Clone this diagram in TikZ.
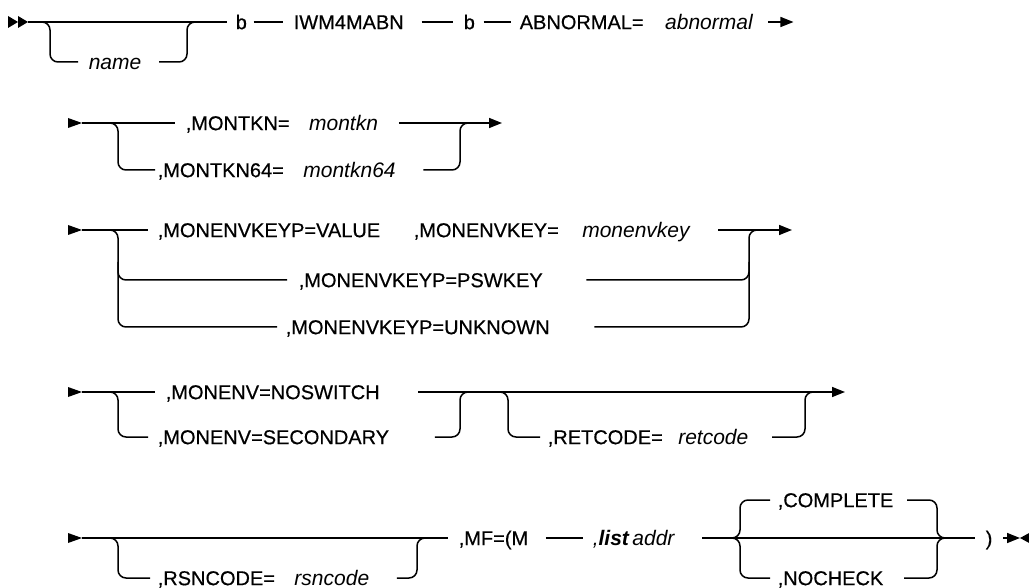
\documentclass[tikz,border=0pt]{standalone}
\usepackage{fontspec}
\setmainfont{Liberation Sans}
\newfontfamily\kwfont{Liberation Sans}[FakeBold=0.5]
\usetikzlibrary{arrows.meta}
\begin{document}
\begin{tikzpicture}[x=1pt,y=-1pt, line width=1.5pt,
  rc/.style={rounded corners=8pt},
  kw/.style={font=\fontsize{20}{23}\selectfont\kwfont, inner sep=0pt, text height=14.3pt, text depth=0pt, anchor=west},
  var/.style={kw, font=\fontsize{21}{24}\selectfont\itshape},
  tip/.style={-{Triangle[length=13pt,width=10pt]}},
  startarrow/.pic={\fill (-14,-5) -- (0,0) -- (-14,5) -- cycle;}]
\path[use as bounding box] (0,0) rectangle (1029,588);
% ---------- row 1
\fill (8,16) -- (18,22) -- (8,28) -- cycle;
\fill (18,16) -- (28,22) -- (18,28) -- cycle;
\coordinate (s1) at (28,22);
\node[kw] (b1) at (235,22) {b};
\node[kw] (iwm) at (293,22) {IWM4MABN};
\node[kw] (b2) at (463,22) {b};
\node[kw] (abn) at (519,22) {ABNORMAL=};
\node[var] (abnv) at ([xshift=20pt]abn.east) {abnormal};
\node[var] (name) at (88,62) {name};
\draw (s1) -- ([xshift=-8pt]b1.west);
\draw[rc] (38,22) -- (50,22) -- (50,62) -- ([xshift=-10pt]name.west);
\draw[rc] ([xshift=17pt]name.east) -- (187,62) -- (187,22) -- (197,22);
\draw ([xshift=6pt]b1.east) -- ([xshift=-10pt]iwm.west);
\draw ([xshift=17pt]iwm.east) -- ([xshift=-10pt]b2.west);
\draw ([xshift=8pt]b2.east) -- ([xshift=-8pt]abn.west);
\draw[tip] ([xshift=15pt]abnv.east) -- ++(25,0);
% ---------- row 2
\pic at (82,123) {startarrow};
\node[kw] (mt) at (185,123) {,MONTKN=};
\node[var] (mtv) at ([xshift=18pt]mt.east) {montkn};
\node[kw] (mt64) at (157,170) {,MONTKN64=};
\node[var] (mt64v) at ([xshift=18pt]mt64.east) {montkn64};
\draw (82,123) -- ([xshift=-10pt]mt.west);
\draw[rc] (108,123) -- (118,123) -- (118,170) -- ([xshift=-2pt]mt64.west);
\draw[tip] ([xshift=20pt]mtv.east) -- (502,123);
\draw[rc] ([xshift=27pt]mt64v.east) -- (460,170) -- (460,123) -- (470,123);
% ---------- row 3
\pic at (82,230) {startarrow};
\node[kw] (kv) at (157,230) {,MONENVKEYP=VALUE};
\node[kw] (kk) at (413,230) {,MONENVKEY=};
\node[var] (kkv) at ([xshift=22pt]kk.east) {monenvkey};
\node[kw] (kp) at (298,280) {,MONENVKEYP=PSWKEY};
\node[kw] (ku) at (285,327) {,MONENVKEYP=UNKNOWN};
\draw (82,230) -- ([xshift=-9pt]kv.west);
\draw[rc] (108,230) -- (118,230) -- (118,327) -- ([xshift=-8pt]ku.west);
\draw[rc] (118,262) -- (118,280) -- ([xshift=-11pt]kp.west);
\draw[tip] ([xshift=28pt]kkv.east) -- (792,230);
\draw[rc] ([xshift=43pt]kp.east) -- (749,280) -- (749,262);
\draw[rc] ([xshift=44pt]ku.east) -- (749,327) -- (749,230) -- (759,230);
% ---------- row 4
\pic at (82,392) {startarrow};
\node[kw] (ns) at (165,392) {,MONENV=NOSWITCH};
\node[kw] (sc) at (157,437) {,MONENV=SECONDARY};
\node[kw] (ret) at (547,437) {,RETCODE=};
\node[var] (retv) at ([xshift=14pt]ret.east) {retcode};
\draw (82,392) -- ([xshift=-10pt]ns.west);
\draw[rc] (108,392) -- (118,392) -- (118,437) -- ([xshift=-9pt]sc.west);
\draw[tip] ([xshift=38pt]ns.east) -- (845,392);
\draw[rc] ([xshift=45pt]sc.east) -- (460,437) -- (460,392) -- (470,392);
\draw[rc] (498,392) -- (508,392) -- (508,437) -- ([xshift=-7pt]ret.west);
\draw[rc] ([xshift=23pt]retv.east) -- (805,437) -- (805,392) -- (815,392);
% ---------- row 5
\pic at (82,538) {startarrow};
\node[kw] (rs) at (157,578) {,RSNCODE=};
\node[var] (rsv) at ([xshift=18pt]rs.east) {rsncode};
\node[kw] (mf) at (458,538) {,MF=(M};
\node[var] (la) at (592,538) {,\textbf{list}\,addr};
\node[kw] (cp) at (777,500) {,COMPLETE};
\node[kw] (nc) at (777,578) {,NOCHECK};
\node[kw] (rp) at (985,538) {)};
\draw (82,538) -- ([xshift=-10pt]mf.west);
\draw[rc] (108,538) -- (118,538) -- (118,578) -- ([xshift=-7pt]rs.west);
\draw[rc] ([xshift=27pt]rsv.east) -- (417,578) -- (417,538) -- (427,538);
\draw ([xshift=17pt]mf.east) -- ([xshift=-9pt]la.west);
\draw ([xshift=27pt]la.east) -- ([xshift=-10pt]rp.west);
\draw[rc] (728,538) -- (740,538) -- (740,500) -- ([xshift=-7pt]cp.west);
\draw[rc] (728,538) -- (740,538) -- (740,578) -- ([xshift=-7pt]nc.west);
\draw[rc] ([xshift=13pt]cp.east) -- (937,500) -- (937,538) -- (949,538);
\draw[rc] ([xshift=20pt]nc.east) -- (937,578) -- (937,538) -- (949,538);
\draw[tip] ([xshift=10pt]rp.east) -- (1020,538);
\fill (1031,532) -- (1020,538) -- (1031,544) -- cycle;
\end{tikzpicture}
\end{document}
